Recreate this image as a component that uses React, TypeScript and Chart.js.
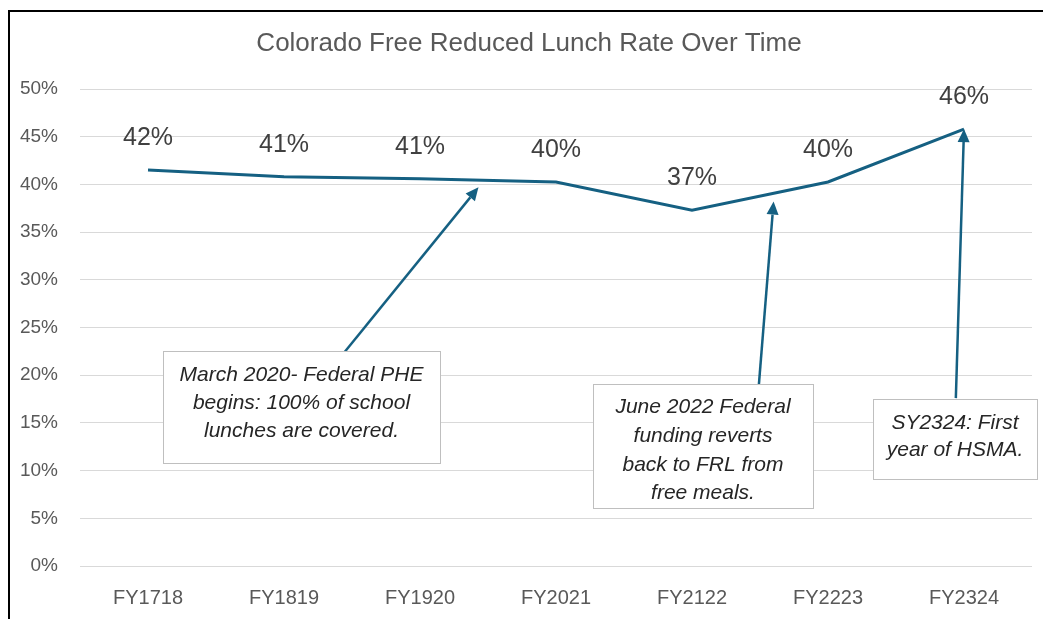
import React, { useEffect, useRef } from "react";
import { Chart, registerables } from "chart.js";

Chart.register(...registerables);

const categories = ["FY1718", "FY1819", "FY1920", "FY2021", "FY2122", "FY2223", "FY2324"];
const frlRate = [41.5, 40.8, 40.6, 40.25, 37.3, 40.25, 45.8];
const yTicks = [0, 5, 10, 15, 20, 25, 30, 35, 40, 45, 50];
const titleText = "Colorado Free Reduced Lunch Rate Over Time";

// annotation notes: text lines, box in pixels, arrow from/to in data coords (category index, value)
const noteLines1 = ["March 2020- Federal PHE", "begins: 100% of school", "lunches are covered."];
const noteLines2 = ["June 2022 Federal", "funding reverts", "back to FRL from", "free meals."];
const noteLines3 = ["SY2324: First", "year of HSMA."];
const arrowFrom = [[1.41, 21.8], [4.49, 18.7], [5.94, 17.6]];
const arrowTo = [[2.43, 39.7], [4.6, 38.2], [6.0, 45.8]];

const LINE_COLOR = "#156082";

const notes = [
  { lines: noteLines1, box: [163, 351, 277, 112], lineY: [375, 403, 431] },
  { lines: noteLines2, box: [593, 384, 220, 124], lineY: [407, 436, 465, 493] },
  { lines: noteLines3, box: [873, 399, 164, 80], lineY: [423, 450] },
];

const decorPlugin = {
  id: "decor",
  beforeDraw(chart: any) {
    const { ctx, width, height } = chart;
    ctx.save();
    ctx.fillStyle = "#ffffff";
    ctx.fillRect(0, 0, width, height);
    ctx.strokeStyle = "#000000";
    ctx.lineWidth = 2;
    ctx.beginPath();
    ctx.moveTo(9, height);
    ctx.lineTo(9, 11);
    ctx.lineTo(width, 11);
    ctx.stroke();
    // title
    ctx.fillStyle = "#595959";
    ctx.font = "26px 'Liberation Sans', Arial, sans-serif";
    ctx.textAlign = "center";
    ctx.textBaseline = "middle";
    ctx.fillText(titleText, 529, 44);
    ctx.restore();
  },
  afterDatasetsDraw(chart: any) {
    const { ctx } = chart;
    const xs = chart.scales.x;
    const ys = chart.scales.y;
    const meta = chart.getDatasetMeta(0);
    ctx.save();
    // data labels
    ctx.fillStyle = "#404040";
    ctx.font = "25px 'Liberation Sans', Arial, sans-serif";
    ctx.textAlign = "center";
    ctx.textBaseline = "middle";
    meta.data.forEach((pt: any, i: number) => {
      ctx.fillText(Math.round(frlRate[i]) + "%", pt.x, pt.y - 32);
    });
    // arrows
    arrowFrom.forEach((f, i) => {
      const t = arrowTo[i];
      const x1 = xs.getPixelForValue(f[0]);
      const y1 = ys.getPixelForValue(f[1]);
      const x2 = xs.getPixelForValue(t[0]);
      const y2 = ys.getPixelForValue(t[1]);
      const ang = Math.atan2(y2 - y1, x2 - x1);
      const head = 13;
      const hw = 6;
      const bx = x2 - head * Math.cos(ang);
      const by = y2 - head * Math.sin(ang);
      ctx.strokeStyle = LINE_COLOR;
      ctx.lineWidth = 2.5;
      ctx.beginPath();
      ctx.moveTo(x1, y1);
      ctx.lineTo(bx, by);
      ctx.stroke();
      ctx.fillStyle = LINE_COLOR;
      ctx.beginPath();
      ctx.moveTo(x2, y2);
      ctx.lineTo(bx + hw * Math.sin(ang), by - hw * Math.cos(ang));
      ctx.lineTo(bx - hw * Math.sin(ang), by + hw * Math.cos(ang));
      ctx.closePath();
      ctx.fill();
    });
    // note boxes
    notes.forEach((n) => {
      const [bx, by, bw, bh] = n.box;
      ctx.fillStyle = "#ffffff";
      ctx.fillRect(bx, by, bw, bh);
      ctx.strokeStyle = "#bfbfbf";
      ctx.lineWidth = 1;
      ctx.strokeRect(bx + 0.5, by + 0.5, bw, bh);
      ctx.fillStyle = "#262626";
      ctx.font = "italic 21px 'Liberation Sans', Arial, sans-serif";
      ctx.textAlign = "center";
      ctx.textBaseline = "middle";
      n.lines.forEach((l, j) => ctx.fillText(l, bx + bw / 2, n.lineY[j]));
    });
    ctx.restore();
  },
};

export default function App() {
  const ref = useRef<HTMLCanvasElement | null>(null);
  useEffect(() => {
    document.body.style.margin = "0";
    const chart = new Chart(ref.current as HTMLCanvasElement, {
      type: "line",
      data: {
        labels: categories,
        datasets: [
          {
            data: frlRate,
            borderColor: LINE_COLOR,
            borderWidth: 3,
            pointRadius: 0,
            tension: 0,
            fill: false,
          },
        ],
      },
      options: {
        animation: false,
        responsive: false,
        devicePixelRatio: 1,
        layout: { padding: { top: 89, right: 11, bottom: 0, left: 0 } },
        plugins: { legend: { display: false }, title: { display: false }, tooltip: { enabled: false } },
        scales: {
          x: {
            offset: true,
            grid: { display: false, drawTicks: false },
            border: { display: false },
            ticks: {
              color: "#595959",
              font: { family: "'Liberation Sans', Arial, sans-serif", size: 20 },
              padding: 20,
              maxRotation: 0,
            },
            afterFit: (s: any) => {
              s.height = 53;
            },
          },
          y: {
            min: 0,
            max: 50,
            afterBuildTicks: (s: any) => {
              s.ticks = yTicks.map((v) => ({ value: v }));
            },
            grid: { color: "#d9d9d9", lineWidth: 1, drawTicks: false },
            border: { display: false },
            ticks: {
              color: "#595959",
              font: { family: "'Liberation Sans', Arial, sans-serif", size: 19 },
              padding: 22,
              callback: (v: any) => v + "%",
            },
            afterFit: (s: any) => {
              s.width = 80;
            },
          },
        },
      },
      plugins: [decorPlugin],
    });
    return () => chart.destroy();
  }, []);
  return <canvas ref={ref} width={1043} height={619} style={{ display: "block" }} />;
}
